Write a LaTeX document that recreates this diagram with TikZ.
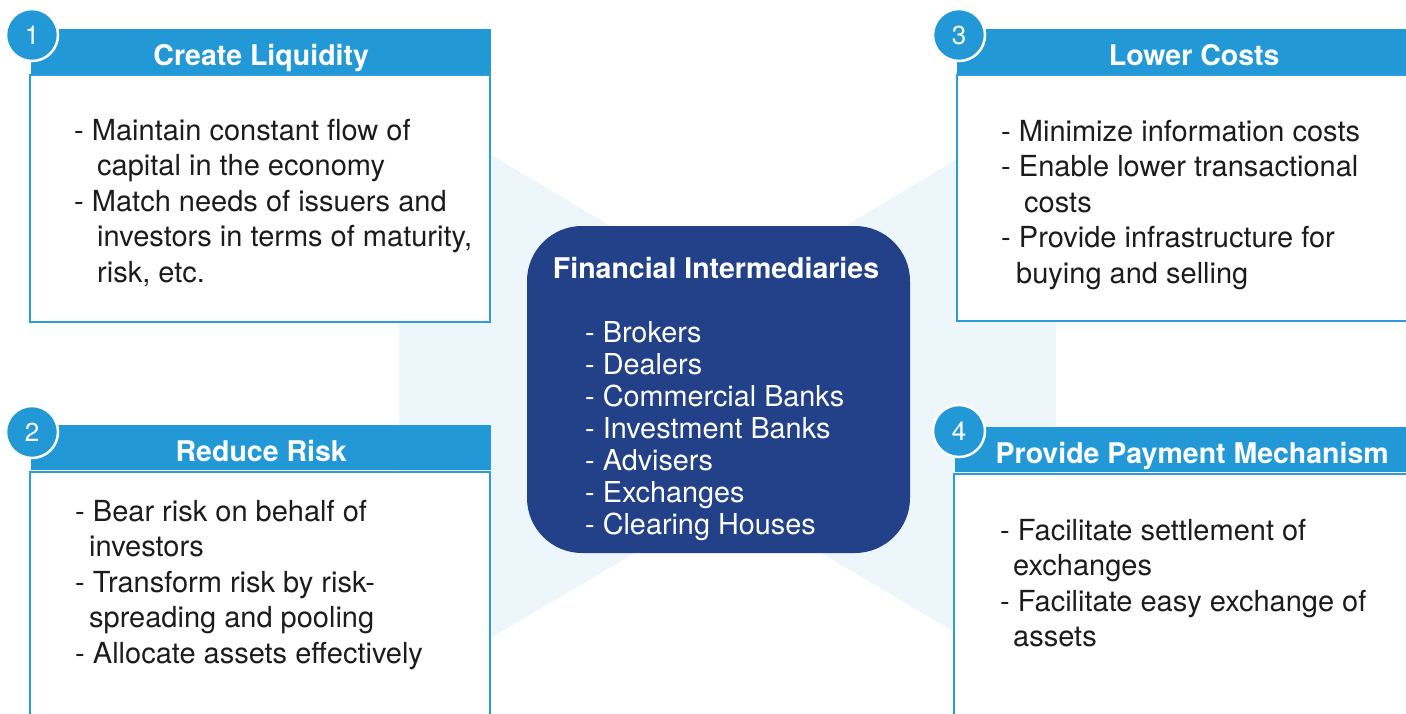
\documentclass[tikz,border=0pt]{standalone}
\usepackage{fontspec}
\setmainfont{TeX Gyre Heros}
\usepackage{xcolor}
\usepackage{tikz}
\usetikzlibrary{positioning}

\definecolor{headblue}{RGB}{34,153,214}
\definecolor{lineblue}{RGB}{44,156,218}
\definecolor{hubblue}{RGB}{35,65,137}
\definecolor{paleblue}{RGB}{237,246,250}
\definecolor{bodyink}{RGB}{28,28,28}

\tikzset{
  header/.style={fill=headblue, text=white, anchor=north west, inner sep=0pt,
    minimum width=460, minimum height=45, text height=27, text depth=0pt,
    font=\fontsize{28.5}{30}\selectfont\bfseries},
  frame/.style={draw=lineblue, line width=2pt, fill=white, anchor=north west,
    inner sep=0pt},
  numdot/.style={circle, fill=headblue, draw=white, line width=2.5pt, minimum size=52,
    inner sep=0pt, text=white, font=\fontsize{26}{26}\selectfont},
  bodytext/.style={anchor=north west, inner sep=0pt, align=left, text=bodyink,
    font=\fontsize{29}{35.5}\selectfont},
}

\begin{document}
\begin{tikzpicture}[x=1pt, y=-1pt]
        \useasboundingbox (0,0) rectangle (1406,713);
        \clip (0,0) rectangle (1406,713);

        % Draw pale backdrop
        \fill[paleblue] (399,100) -- (728,296) -- (1056,100) -- (1056,692)
            -- (728,498) -- (399,692) -- cycle;

        % Draw frames
        \node[frame, minimum width=460, minimum height=247] (frame1) at (29,74) {};
        \node[frame, minimum width=460, minimum height=280] (frame2) at (29,471) {};
        \node[frame, minimum width=480, minimum height=246] (frame3) at (956,74) {};
        \node[frame, minimum width=480, minimum height=280] (frame4) at (953,473) {};

        % Headers
        \node[header] (head1) at (31,29) {Create Liquidity};
        \node[header] (head2) at (31,425) {Reduce Risk};
        \node[header, minimum width=474] (head3) at (957,29) {Lower Costs};
        \node[header, minimum width=474] (head4) at (955,427) {Provide Payment Mechanism};

        % Numbers
        \node[numdot] (num1) at (32,35) {1};
        \node[numdot] (num2) at (32,432) {2};
        \node[numdot] (num3) at (959,35) {3};
        \node[numdot] (num4) at (959,431) {4};

        % Box texts
        \node[bodytext] (text1) at (74,119) {- Maintain constant flow of\\
            \hspace*{23pt}capital in the economy\\
            - Match needs of issuers and\\
            \hspace*{23pt}investors in terms of maturity,\\
            \hspace*{23pt}risk, etc.};
        \node[bodytext] (text2) at (75,500) {- Bear risk on behalf of\\
            \hspace*{14pt}investors\\
            - Transform risk by risk-\\
            \hspace*{14pt}spreading and pooling\\
            - Allocate assets effectively};
        \node[bodytext] (text3) at (1001,120) {- Minimize information costs\\
            - Enable lower transactional\\
            \hspace*{23pt}costs\\
            - Provide infrastructure for\\
            \hspace*{15pt}buying and selling};
        \node[bodytext] (text4) at (1000,519) {- Facilitate settlement of\\
            \hspace*{13pt}exchanges\\
            - Facilitate easy exchange of\\
            \hspace*{13pt}assets};

        % Center box
        \node[fill=hubblue, rounded corners=55, minimum width=383, minimum height=327,
            inner sep=0pt] (hub) at (718.5,389.5) {};
        \node[text=white, font=\fontsize{28.5}{30}\selectfont\bfseries, inner sep=0pt]
            (hubtitle) at (716,268) {Financial Intermediaries};
        \node[bodytext, text=white, font=\fontsize{28.8}{32}\selectfont] (hublist)
            at (585,321) {- Brokers\\ - Dealers\\ - Commercial Banks\\ - Investment Banks\\
            - Advisers\\ - Exchanges\\ - Clearing Houses};
    \end{tikzpicture}
\end{document}
